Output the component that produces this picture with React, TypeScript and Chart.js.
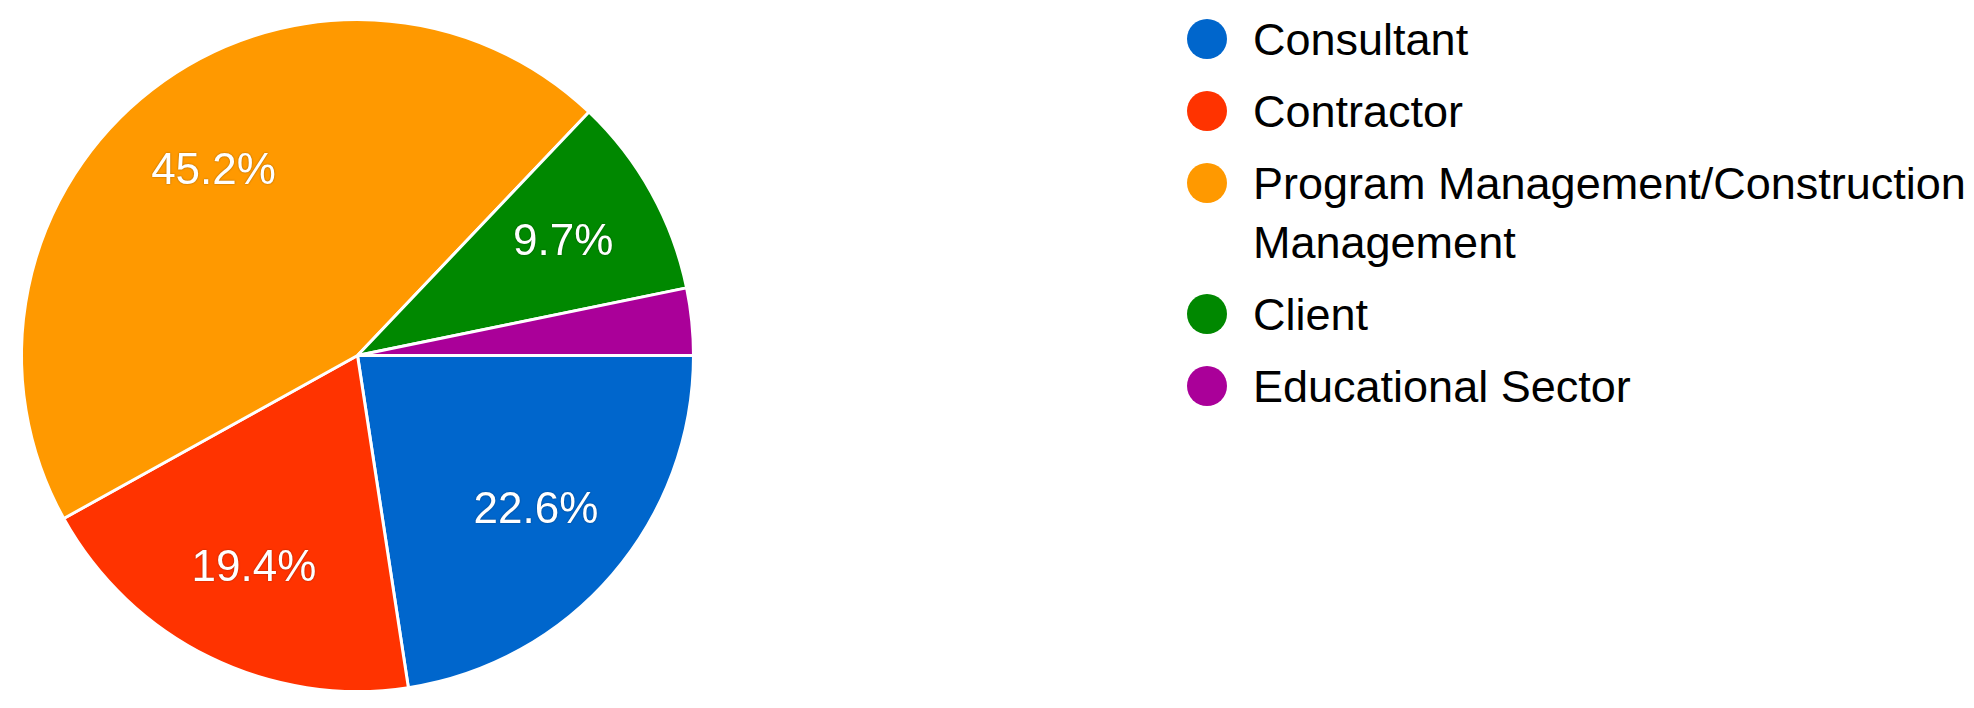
import React, { useEffect, useRef } from "react";
import { Chart, registerables } from "chart.js";

Chart.register(...registerables);

const categories = [
  "Consultant",
  "Contractor",
  "Program Management/Construction Management",
  "Client",
  "Educational Sector",
];
const responses = [7, 6, 14, 3, 1];
const percentLabels = ["22.6%", "19.4%", "45.2%", "9.7%", "3.2%"];
const colors = ["#0066CC", "#FF3300", "#FF9900", "#008800", "#AA0099"];

const FONT = "'Liberation Sans', Arial, sans-serif";

const sliceLabelPlugin = {
  id: "sliceLabels",
  afterDatasetsDraw(chart: any) {
    const ctx = chart.ctx;
    const meta = chart.getDatasetMeta(0);
    const total = responses.reduce((a, b) => a + b, 0);
    ctx.save();
    ctx.font = `44px ${FONT}`;
    ctx.fillStyle = "#ffffff";
    ctx.textAlign = "center";
    ctx.textBaseline = "middle";
    ctx.shadowColor = "rgba(0,0,0,0.4)";
    ctx.shadowBlur = 2;
    meta.data.forEach((arc: any, i: number) => {
      if (responses[i] / total < 0.05) return;
      const { x, y, startAngle, endAngle, outerRadius } = arc.getProps(
        ["x", "y", "startAngle", "endAngle", "outerRadius"],
        true
      );
      const mid = (startAngle + endAngle) / 2;
      const r = outerRadius * 0.7;
      ctx.fillText(percentLabels[i], x + Math.cos(mid) * r, y + Math.sin(mid) * r + 2);
    });
    ctx.restore();
  },
};

export default function App() {
  const canvasRef = useRef<HTMLCanvasElement | null>(null);

  useEffect(() => {
    document.body.style.margin = "0";
    const chart = new Chart(canvasRef.current as HTMLCanvasElement, {
      type: "pie",
      data: {
        labels: categories,
        datasets: [
          {
            data: responses,
            backgroundColor: colors,
            borderColor: "#ffffff",
            borderWidth: 3,
          },
        ],
      },
      options: {
        animation: false,
        responsive: false,
        rotation: 90,
        layout: { padding: { left: 20, top: 18, right: 25, bottom: 15 } },
        plugins: {
          legend: { display: false },
          tooltip: { enabled: false },
        },
      },
      plugins: [sliceLabelPlugin],
    });
    return () => chart.destroy();
  }, []);

  return (
    <div
      style={{
        position: "relative",
        width: 1974,
        height: 708,
        background: "#ffffff",
        overflow: "hidden",
        fontFamily: FONT,
      }}
    >
      <canvas
        ref={canvasRef}
        width={720}
        height={708}
        style={{ position: "absolute", left: 0, top: 0, width: 720, height: 708 }}
      />
      <div
        style={{
          position: "absolute",
          left: 1187,
          top: 10,
          display: "flex",
          flexDirection: "column",
          gap: 13,
        }}
      >
        {categories.map((c, i) => (
          <div key={c} style={{ display: "flex", alignItems: "flex-start" }}>
            <div
              style={{
                width: 40,
                height: 40,
                borderRadius: "50%",
                background: colors[i],
                marginTop: 9,
                flex: "0 0 auto",
              }}
            />
            <div
              style={{
                marginLeft: 26,
                fontSize: 45,
                lineHeight: "59px",
                color: "#000000",
                maxWidth: 760,
              }}
            >
              {c}
            </div>
          </div>
        ))}
      </div>
    </div>
  );
}
